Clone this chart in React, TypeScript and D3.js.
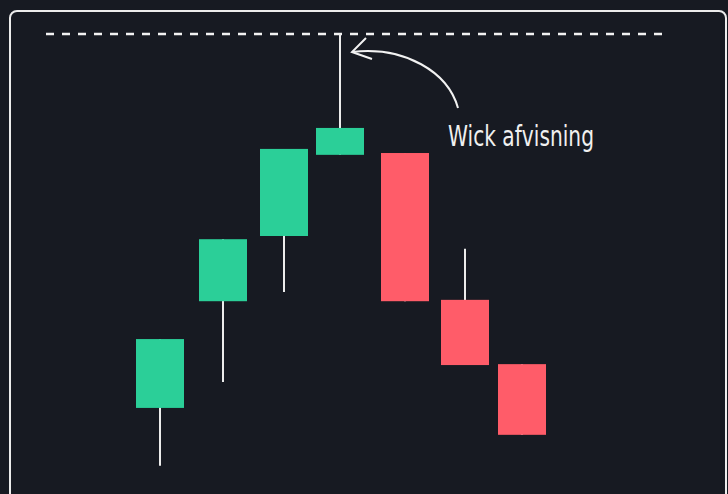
import React from "react";
import * as d3 from "d3";

const candleTimes = [0, 1.04, 2.05, 2.98, 4.06, 5.05, 6.0];
const opens = [18.0, 41.4, 55.7, 73.5, 73.9, 41.7, 27.6];
const closes = [33.1, 55.0, 74.8, 79.4, 41.4, 27.4, 12.1];
const highs = [33.1, 55.0, 74.8, 100.0, 73.9, 52.9, 27.6];
const lows = [5.3, 23.7, 43.4, 73.5, 41.4, 27.4, 12.1];
const resistanceLevel = [100];
const annotationText = ["Wick afvisning"];

const W = 728;
const H = 494;
const BG = "#171a22";
const GREEN = "#2bcf98";
const RED = "#ff5c69";
const WICK = "#ececec";

export default function App() {
  const x = d3.scaleLinear().domain([0, 6]).range([160, 522]);
  const y = d3.scaleLinear().domain([0, 100]).range([490, 34]);
  const bodyW = 48;
  const res = resistanceLevel[0];

  const data = candleTimes.map((t, i) => ({
    t,
    o: opens[i],
    c: closes[i],
    h: highs[i],
    l: lows[i],
  }));

  const arrowTip: [number, number] = [352, 52];
  const arrowStart: [number, number] = [458, 108];
  const path = d3.path();
  path.moveTo(arrowStart[0], arrowStart[1]);
  path.bezierCurveTo(448, 72, 405, 46, arrowTip[0], arrowTip[1]);

  return (
    <svg
      width={W}
      height={H}
      style={{ position: "absolute", left: 0, top: 0, display: "block" }}
    >
      <rect x={0} y={0} width={W} height={H} fill={BG} />
      <rect
        x={10}
        y={11}
        width={716}
        height={540}
        rx={7}
        ry={7}
        fill={BG}
        stroke="#ececec"
        strokeWidth={2}
      />
      <line
        x1={46}
        x2={662}
        y1={y(res)}
        y2={y(res)}
        stroke="#f2f2f2"
        strokeWidth={2.6}
        strokeDasharray="8 8"
      />
      {data.map((d, i) => {
        const cx = Math.round(x(d.t));
        const up = d.c >= d.o;
        const top = y(Math.max(d.o, d.c));
        const bot = y(Math.min(d.o, d.c));
        return (
          <g key={i}>
            <line
              x1={cx}
              x2={cx}
              y1={y(d.h)}
              y2={y(d.l)}
              stroke={WICK}
              strokeWidth={2}
            />
            <rect
              x={cx - bodyW / 2}
              y={top}
              width={bodyW}
              height={Math.max(1, bot - top)}
              fill={up ? GREEN : RED}
            />
          </g>
        );
      })}
      <path
        d={path.toString()}
        fill="none"
        stroke="#f2f2f2"
        strokeWidth={2}
      />
      <path
        d={`M${arrowTip[0] + 14},${arrowTip[1] - 14} L${arrowTip[0]},${arrowTip[1]} L${arrowTip[0] + 20},${arrowTip[1] + 7}`}
        fill="none"
        stroke="#f2f2f2"
        strokeWidth={2}
        strokeLinejoin="miter"
      />
      <text
        x={448}
        y={146}
        fill="#f0f0f0"
        fontFamily="'DejaVu Sans', sans-serif"
        fontSize={29}
        textLength={146}
        lengthAdjust="spacingAndGlyphs"
      >
        {annotationText[0]}
      </text>
    </svg>
  );
}
